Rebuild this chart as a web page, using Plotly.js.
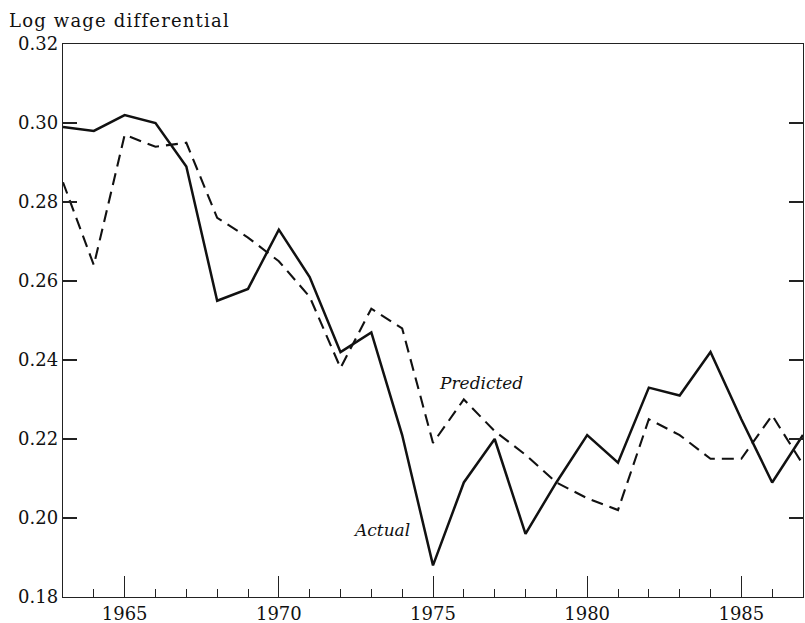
<!DOCTYPE html>
<html>
<head>
<meta charset="utf-8">
<script src="https://cdn.plot.ly/plotly-3.0.1.min.js"></script>
<style>
html,body{margin:0;padding:0;background:#fff;}
#chart{width:805px;height:623px;}
#chart .gtitle{letter-spacing:1.2px;}
</style>
</head>
<body>
<div id="chart"></div>
<script>
const years = [1963,1964,1965,1966,1967,1968,1969,1970,1971,1972,1973,1974,1975,1976,1977,1978,1979,1980,1981,1982,1983,1984,1985,1986,1987];
const actual = [0.299,0.298,0.302,0.300,0.289,0.255,0.258,0.273,0.261,0.242,0.247,0.221,0.188,0.209,0.220,0.196,0.209,0.221,0.214,0.233,0.231,0.242,0.225,0.209,0.221];
const predicted = [0.285,0.264,0.297,0.294,0.295,0.276,0.271,0.265,0.256,0.238,0.253,0.248,0.219,0.230,0.222,0.216,0.209,0.205,0.202,0.225,0.221,0.215,0.215,0.226,0.2135];
const yTicks = [0.18,0.20,0.22,0.24,0.26,0.28,0.30,0.32];
const yTickText = ["0.18","0.20","0.22","0.24","0.26","0.28","0.30","0.32"];
const xTicks = [1965,1970,1975,1980,1985];

const font = "DejaVu Serif, Liberation Serif, serif";

const traces = [
  {x: years, y: actual, type: 'scatter', mode: 'lines', name: 'Actual',
   line: {color: '#111', width: 2.5}},
  {x: years, y: predicted, type: 'scatter', mode: 'lines', name: 'Predicted',
   line: {color: '#111', width: 2.1, dash: '12px,7px'}}
];

const layout = {
  width: 805, height: 623,
  margin: {l: 63, r: 2, t: 44, b: 26},
  paper_bgcolor: '#fff', plot_bgcolor: '#fff',
  showlegend: false,
  font: {family: font, color: '#111', size: 17},
  title: {text: 'Log wage differential', xref: 'container', yref: 'container',
          x: 9/805, xanchor: 'left', y: 1 - 21/623, yanchor: 'middle',
          font: {family: font, size: 18, color: '#111'}},
  xaxis: {range: [1963, 1987], tickvals: xTicks, ticks: 'inside', ticklen: 21,
          tickwidth: 1, tickcolor: '#222', showline: true, linecolor: '#222', linewidth: 1.2,
          mirror: true, showgrid: false, zeroline: false,
          tickfont: {family: font, size: 18, color: '#111'},
          minor: {dtick: 1, ticks: 'inside', ticklen: 8, tickwidth: 1, tickcolor: '#222', showgrid: false}},
  yaxis: {range: [0.18, 0.32], tickvals: yTicks, ticktext: yTickText, ticks: 'inside', ticklen: 14,
          tickwidth: 1.2, tickcolor: '#222', showline: true, linecolor: '#222', linewidth: 1.2,
          mirror: 'ticks', showgrid: false, zeroline: false,
          tickfont: {family: font, size: 18, color: '#111'}},
  annotations: [
    {text: 'Predicted', x: 1975.13, y: 0.2342, xref: 'x', yref: 'y', xanchor: 'left', yanchor: 'middle',
     showarrow: false, font: {family: font, size: 17, color: '#111', style: 'italic'}},
    {text: 'Actual', x: 1972.34, y: 0.197, xref: 'x', yref: 'y', xanchor: 'left', yanchor: 'middle',
     showarrow: false, font: {family: font, size: 17, color: '#111', style: 'italic'}}
  ]
};

Plotly.newPlot('chart', traces, layout, {displayModeBar: false, staticPlot: true});
</script>
</body>
</html>
